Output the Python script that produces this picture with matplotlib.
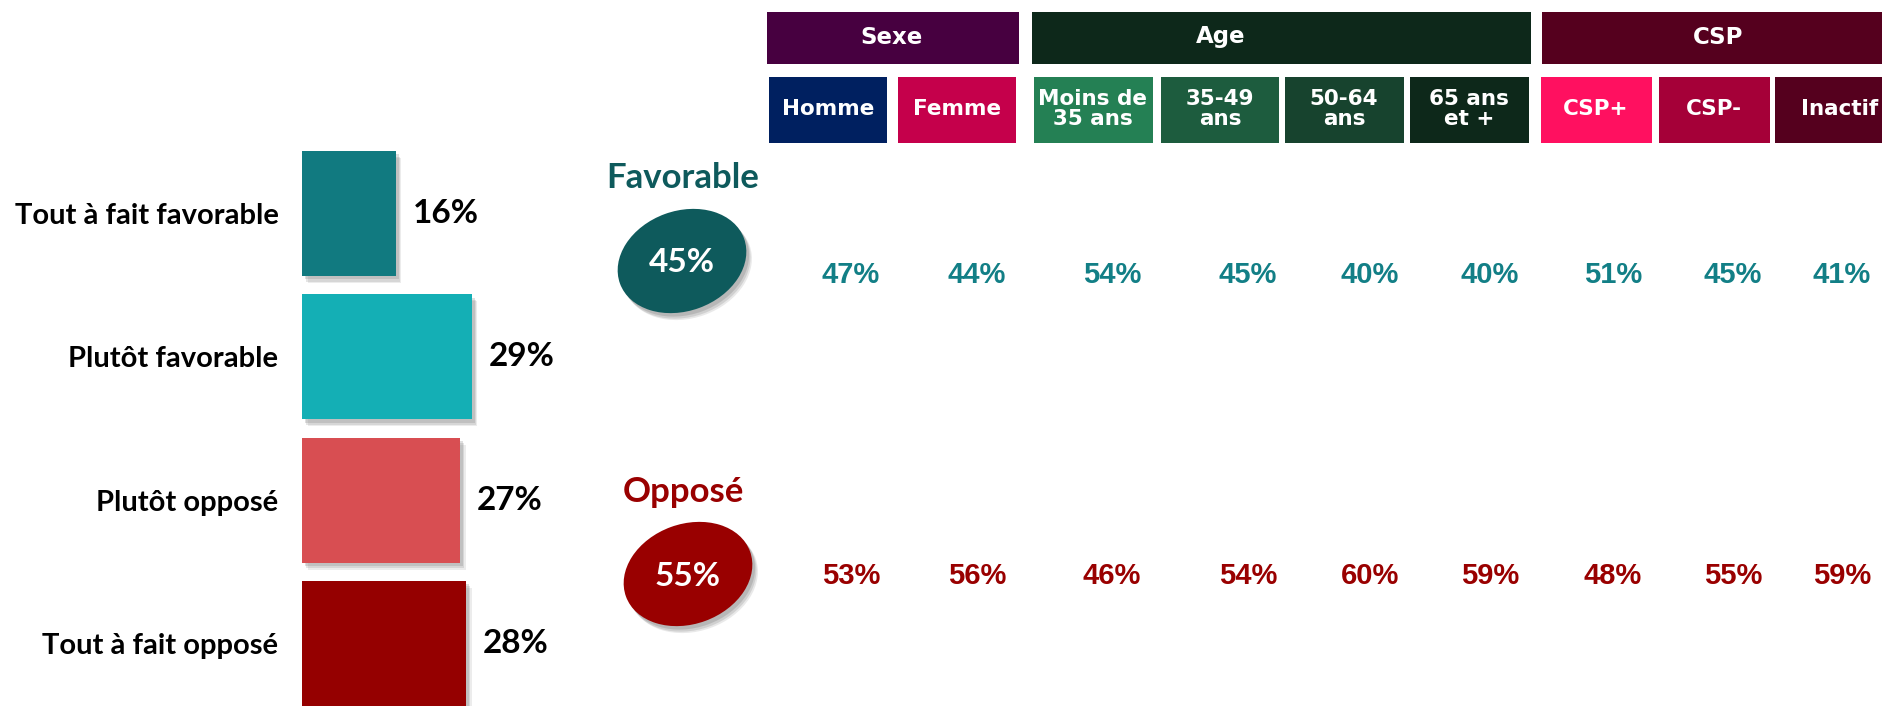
import matplotlib.pyplot as plt
import matplotlib.patheffects as pe
from matplotlib.patches import Rectangle, Ellipse

# data
levels = ["Tout à fait favorable", "Plutôt favorable", "Plutôt opposé", "Tout à fait opposé"]
level_values = [16, 29, 27, 28]
level_colors = ["#117a80", "#14afb5", "#d84e52", "#950000"]

total_favorable = 45
total_oppose = 55

groups = ["Sexe", "Age", "CSP"]
subgroups = ["Homme", "Femme", "Moins de\n35 ans", "35-49\nans", "50-64\nans",
             "65 ans\net +", "CSP+", "CSP-", "Inactif"]
favorable = [47, 44, 54, 45, 40, 40, 51, 45, 41]
oppose = [53, 56, 46, 54, 60, 59, 48, 55, 59]

# layout (pixels, y from top)
W, H = 1883, 706
group_boxes = [(767, 1019), (1032, 1531), (1542, 1894)]
group_text_x = [892, 1221, 1718]
group_colors = ["#470040", "#0d281a", "#55001e"]
sub_boxes = [(769, 887), (898, 1016), (1034, 1153), (1161, 1279), (1285, 1404),
             (1410, 1529), (1541, 1652), (1659, 1770), (1775, 1905)]
sub_text_x = [828, 957, 1093, 1220, 1344, 1469, 1596, 1714, 1840]
sub_colors = ["#002060", "#c5004b", "#248054", "#1d5c3e", "#17432e",
              "#0d281a", "#ff1060", "#a50038", "#55001e"]
value_x = [851, 977, 1112, 1248, 1370, 1490, 1613, 1733, 1842]
FAV_Y, OPP_Y = 275, 576
FAV_COLOR, OPP_COLOR = "#127f86", "#990000"

label_font = "Lato"
head_font = "DejaVu Sans"
num_font = "Liberation Sans"


def soft_shadow(color):
    # a few stacked offsets to fake a blurred drop shadow
    return [pe.SimplePatchShadow(offset=(4, -5), shadow_rgbFace=color, alpha=0.15),
            pe.SimplePatchShadow(offset=(3, -4), shadow_rgbFace=color, alpha=0.2),
            pe.SimplePatchShadow(offset=(2, -2.5), shadow_rgbFace=color, alpha=0.25),
            pe.Normal()]


fig = plt.figure(figsize=(W / 100, H / 100), dpi=100, facecolor="white")

# left bar chart
bar_left, px_per_pct = 302, 5.86
row_px, top_px = 143.3, 213.5 - 143.3 / 2
ax = fig.add_axes([bar_left / W, 1 - (top_px + 4 * row_px) / H,
                   40 * px_per_pct / W, 4 * row_px / H])
bars = ax.barh(range(len(levels)), level_values, height=125 / row_px,
               color=level_colors)
for b in bars:
    b.set_path_effects(soft_shadow("#808080"))
for i, v in enumerate(level_values):
    ax.annotate(f"{v}%", (v, i), xytext=(12, 0), textcoords="offset points",
                ha="left", va="center", fontsize=24, fontweight="bold",
                family=label_font, color="black")
ax.set_xlim(0, 40)
ax.set_ylim(3.5, -0.5)
ax.set_yticks(range(len(levels)))
ax.set_yticklabels(levels, fontsize=21, fontweight="bold", family=label_font)
ax.tick_params(axis="y", length=0, pad=17)
ax.set_xticks([])
for s in ax.spines.values():
    s.set_visible(False)
ax.patch.set_alpha(0)

# overlay for the rest
lay = fig.add_axes([0, 0, 1, 1])
lay.set_xlim(0, W)
lay.set_ylim(H, 0)
lay.axis("off")
lay.patch.set_alpha(0)

for (x0, x1), name, tx, c in zip(group_boxes, groups, group_text_x, group_colors):
    lay.add_patch(Rectangle((x0, 12), x1 - x0, 52, color=c, lw=0))
    lay.text(tx, 37, name, ha="center", va="center", color="white",
             fontsize=16.5, fontweight="bold", family=head_font)

for (x0, x1), name, tx, c in zip(sub_boxes, subgroups, sub_text_x, sub_colors):
    lay.add_patch(Rectangle((x0, 77), x1 - x0, 66, color=c, lw=0))
    lay.text(tx, 109, name, ha="center", va="center", color="white",
             fontsize=15.5, fontweight="bold", family=head_font, linespacing=1.05)

for x, f, o in zip(value_x, favorable, oppose):
    lay.text(x, FAV_Y, f"{f}%", ha="center", va="center", color=FAV_COLOR,
             fontsize=21, fontweight="bold", family=num_font)
    lay.text(x, OPP_Y, f"{o}%", ha="center", va="center", color=OPP_COLOR,
             fontsize=21, fontweight="bold", family=num_font)

# totals
for title, total, cx, cy, ty, c in [("Favorable", total_favorable, 682, 261, 178, "#0e5a5c"),
                                     ("Opposé", total_oppose, 688, 574, 492, "#990000")]:
    e = Ellipse((cx, cy), 132, 100, angle=-20, color=c, lw=0)
    e.set_path_effects(soft_shadow("#707070"))
    lay.add_patch(e)
    lay.text(cx, cy + 2, f"{total}%", ha="center", va="center", color="white",
             fontsize=24, fontweight="bold", family=label_font)
    lay.text(683, ty, title, ha="center", va="center", color=c,
             fontsize=25, fontweight="bold", family=label_font)

fig.savefig("out.png", dpi=100, facecolor="white")
